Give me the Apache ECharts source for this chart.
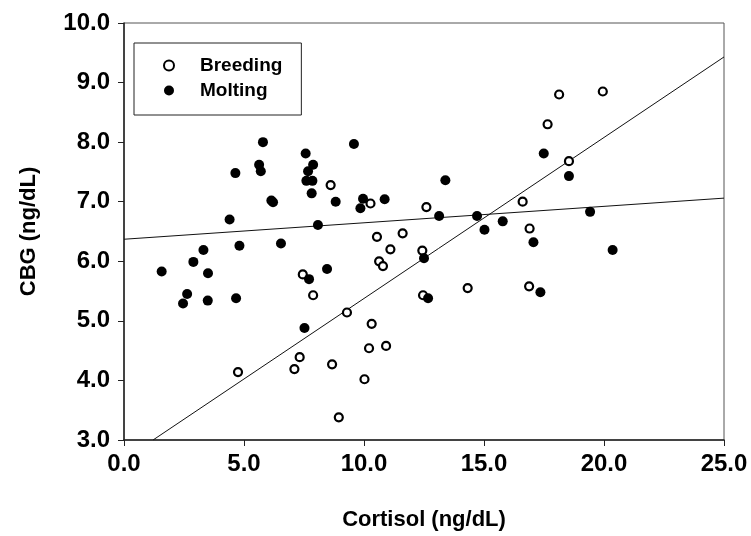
<!DOCTYPE html>
<html>
<head>
<meta charset="utf-8">
<script src="https://cdn.jsdelivr.net/npm/echarts@6/dist/echarts.min.js"></script>
<style>
  html, body { margin: 0; padding: 0; background: #fff; }
  #chart { width: 751px; height: 536px; }
</style>
</head>
<body>
<div id="chart"></div>
<script>
// Breeding birds: [cortisol, CBG]
const breeding = [
    [4.75, 4.14], [7.10, 4.19], [7.32, 4.39], [7.45, 5.78], [7.88, 5.43],
    [8.61, 7.28], [8.67, 4.27], [8.95, 3.38], [9.29, 5.14], [10.02, 4.02],
    [10.21, 4.54], [10.32, 4.95], [10.27, 6.97], [10.54, 6.41], [10.63, 6.00],
    [10.79, 5.92], [10.92, 4.58], [11.10, 6.20], [11.61, 6.47], [12.43, 6.18],
    [12.46, 5.43], [12.60, 6.91], [14.32, 5.55], [16.61, 7.00], [16.88, 5.58],
    [16.90, 6.55], [17.65, 8.30], [18.13, 8.80], [18.54, 7.68], [19.95, 8.85]
];

// Molting birds
const molting = [
    [1.57, 5.83], [2.46, 5.29], [2.63, 5.45], [2.89, 5.99], [3.31, 6.19],
    [3.49, 5.34], [3.50, 5.80], [4.40, 6.70], [4.64, 7.48], [4.67, 5.38],
    [4.81, 6.26], [5.63, 7.62], [5.70, 7.51], [5.79, 8.00], [6.14, 7.02],
    [6.21, 6.99], [6.54, 6.30], [7.52, 4.88], [7.57, 7.81], [7.67, 7.51],
    [7.60, 7.35], [7.85, 7.35], [7.88, 7.62], [7.82, 7.14], [7.71, 5.70],
    [8.08, 6.61], [8.46, 5.87], [8.82, 7.00], [9.58, 7.97], [9.85, 6.89],
    [9.96, 7.05], [10.86, 7.04], [12.50, 6.05], [12.67, 5.38], [13.13, 6.76],
    [13.39, 7.36], [14.71, 6.76], [15.02, 6.53], [15.78, 6.67], [17.06, 6.32],
    [17.35, 5.48], [17.49, 7.81], [18.54, 7.43], [19.42, 6.83], [20.36, 6.19]
];

// regression lines (end points)
const breedingFit = [[1.21, 3.0], [25, 9.43]];
const moltingFit = [[0, 6.37], [25, 7.06]];

const seriesNames = ['Breeding', 'Molting'];

const font = "'Liberation Sans', Arial, sans-serif";

const chart = echarts.init(document.getElementById('chart'));

const option = {
    backgroundColor: '#fff',
    animation: false,
    textStyle: { fontFamily: font, color: '#000' },
    grid: {
        left: 124,
        right: 27,
        top: 23,
        bottom: 94,
        show: true,
        borderColor: '#555',
        borderWidth: 1
    },
    legend: {
        data: seriesNames,
        orient: 'vertical',
        left: 134,
        top: 43,
        padding: [13, 19, 15, 29],
        itemWidth: 52,
        itemHeight: 10,
        itemGap: 6,
        borderColor: '#222',
        borderWidth: 1,
        textStyle: { fontFamily: font, fontSize: 19, fontWeight: 'bold', color: '#000', lineHeight: 19 }
    },
    xAxis: {
        type: 'value',
        min: 0,
        max: 25,
        interval: 5,
        name: 'Cortisol (ng/dL)',
        nameLocation: 'middle',
        nameGap: 69,
        nameTextStyle: { fontFamily: font, fontSize: 22, fontWeight: 'bold', color: '#000' },
        axisLine: { lineStyle: { color: '#222', width: 1.5 } },
        axisTick: { inside: false, length: 6, lineStyle: { color: '#222' } },
        axisLabel: {
            margin: 12,
            fontFamily: font,
            fontSize: 24,
            fontWeight: 'bold',
            color: '#000',
            formatter: v => v.toFixed(1)
        },
        splitLine: { show: false }
    },
    yAxis: {
        type: 'value',
        min: 3,
        max: 10,
        interval: 1,
        name: 'CBG (ng/dL)',
        nameLocation: 'middle',
        nameGap: 84,
        nameRotate: 90,
        nameTextStyle: { fontFamily: font, fontSize: 22, fontWeight: 'bold', color: '#000' },
        axisLine: { lineStyle: { color: '#222', width: 1.5 } },
        axisTick: { inside: false, length: 6, lineStyle: { color: '#222' } },
        axisLabel: {
            margin: 14,
            fontFamily: font,
            fontSize: 24,
            fontWeight: 'bold',
            color: '#000',
            formatter: v => v.toFixed(1)
        },
        splitLine: { show: false }
    },
    series: [
        {
            name: 'Breeding',
            type: 'scatter',
            data: breeding,
            symbol: 'circle',
            symbolSize: 8,
            itemStyle: { color: '#fff', borderColor: '#000', borderWidth: 2.2, opacity: 1 },
            z: 3
        },
        {
            name: 'Molting',
            type: 'scatter',
            data: molting,
            symbol: 'circle',
            symbolSize: 10,
            itemStyle: { color: '#000', opacity: 1 },
            z: 3
        },
        {
            name: 'Breeding fit',
            type: 'line',
            data: breedingFit,
            symbol: 'none',
            silent: true,
            lineStyle: { color: '#111', width: 1 },
            z: 2
        },
        {
            name: 'Molting fit',
            type: 'line',
            data: moltingFit,
            symbol: 'none',
            silent: true,
            lineStyle: { color: '#111', width: 1 },
            z: 2
        }
    ]
};

chart.setOption(option);
</script>
</body>
</html>
